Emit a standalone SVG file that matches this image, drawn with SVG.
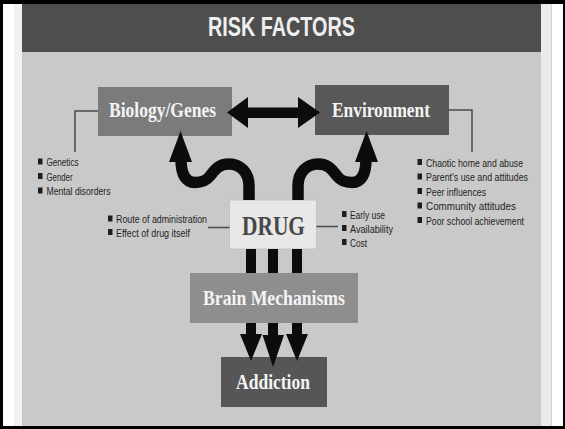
<svg xmlns="http://www.w3.org/2000/svg" width="565" height="429" viewBox="0 0 565 429">
<style>
.frame{fill:#000}
.lbl{font-family:"Liberation Serif","Times New Roman",serif;font-weight:bold;fill:#f4f4f4}
.drug{font-family:"Liberation Serif","Times New Roman",serif;font-weight:bold;fill:#474747}
.li{font-family:"Liberation Sans",Arial,sans-serif;font-size:11px;fill:#1e1e1e}
.bul{fill:#1e1e1e}
.ln{stroke:#4a4a4a;stroke-width:1.5;fill:none}
.blk{fill:#0c0c0c}
.curve{stroke:#0c0c0c;stroke-width:11.5;fill:none}
</style>
<rect width="565" height="429" fill="#ffffff"/>
<rect x="14" y="4" width="8" height="422" fill="#f1f1f1"/>
<rect x="541" y="4" width="10" height="422" fill="#ebebeb"/>
<rect x="551" y="4" width="1" height="422" fill="#d2d2d2"/>
<rect x="22" y="52" width="519" height="374" fill="#c9c9c9"/>
<rect x="22" y="4" width="519" height="48" fill="#4e4e4e"/>
<rect class="frame" x="0" y="0" width="565" height="4"/>
<rect class="frame" x="0" y="0" width="3" height="429"/>
<rect class="frame" x="0" y="426" width="565" height="3"/>
<rect class="frame" x="563" y="0" width="2" height="429"/>

<g id="title">
<text x="208" y="36" font-family="Liberation Sans, Arial, sans-serif" font-weight="bold" font-size="27" fill="#eeeeee" textLength="147" lengthAdjust="spacingAndGlyphs">RISK FACTORS</text>
</g>

<g id="biology">
<rect x="98" y="87" width="134" height="49" fill="#7b7b7b"/>
<text class="lbl" x="109" y="117" font-size="21" textLength="107" lengthAdjust="spacingAndGlyphs">Biology/Genes</text>
</g>
<g id="environment">
<rect x="315" y="85" width="134" height="50" fill="#585858"/>
<text class="lbl" x="332" y="117" font-size="21" textLength="98" lengthAdjust="spacingAndGlyphs">Environment</text>
</g>
<g id="drug">
<rect x="229.5" y="200" width="87" height="49" fill="#e8e8e8" stroke="#c4c4c4" stroke-width="1"/>
<text class="drug" x="242" y="235" font-size="28" textLength="63" lengthAdjust="spacingAndGlyphs">DRUG</text>
</g>
<g id="brain">
<rect x="190" y="273" width="168" height="50" fill="#8e8e8e"/>
<text class="lbl" x="203" y="305" font-size="22" textLength="142" lengthAdjust="spacingAndGlyphs">Brain Mechanisms</text>
</g>
<g id="addiction">
<rect x="221" y="357" width="106" height="50" fill="#565656"/>
<text class="lbl" x="236" y="389" font-size="22" textLength="74" lengthAdjust="spacingAndGlyphs">Addiction</text>
</g>

<g id="biology-factors">
<path class="ln" d="M98 111 H75 V152"/>
<rect class="bul" x="38" y="158.5" width="4.5" height="6"/>
<text class="li" x="46.5" y="166" textLength="32" lengthAdjust="spacingAndGlyphs">Genetics</text>
<rect class="bul" x="38" y="173" width="4.5" height="6"/>
<text class="li" x="46.5" y="180.5" textLength="26" lengthAdjust="spacingAndGlyphs">Gender</text>
<rect class="bul" x="38" y="187.5" width="4.5" height="6"/>
<text class="li" x="46.5" y="195" textLength="64" lengthAdjust="spacingAndGlyphs">Mental disorders</text>
</g>
<g id="environment-factors">
<path class="ln" d="M449 110 H472 V152"/>
<rect class="bul" x="417.5" y="159" width="4.5" height="6"/>
<text class="li" x="426" y="166.5" textLength="97" lengthAdjust="spacingAndGlyphs">Chaotic home and abuse</text>
<rect class="bul" x="417.5" y="173.5" width="4.5" height="6"/>
<text class="li" x="426" y="181" textLength="102" lengthAdjust="spacingAndGlyphs">Parent's use and attitudes</text>
<rect class="bul" x="417.5" y="188" width="4.5" height="6"/>
<text class="li" x="426" y="195.5" textLength="60" lengthAdjust="spacingAndGlyphs">Peer influences</text>
<rect class="bul" x="417.5" y="202.5" width="4.5" height="6"/>
<text class="li" x="426" y="210" textLength="90" lengthAdjust="spacingAndGlyphs">Community attitudes</text>
<rect class="bul" x="417.5" y="217" width="4.5" height="6"/>
<text class="li" x="426" y="224.5" textLength="98" lengthAdjust="spacingAndGlyphs">Poor school achievement</text>
</g>
<g id="drug-factors-left">
<path class="ln" d="M208 227.5 H229.5"/>
<rect class="bul" x="108" y="215.5" width="4.5" height="6"/>
<text class="li" x="116" y="223" textLength="91" lengthAdjust="spacingAndGlyphs">Route of administration</text>
<rect class="bul" x="108" y="229" width="4.5" height="6"/>
<text class="li" x="116" y="236.5" textLength="74" lengthAdjust="spacingAndGlyphs">Effect of drug itself</text>
</g>
<g id="drug-factors-right">
<path class="ln" d="M316.5 226.5 H338"/>
<rect class="bul" x="342" y="211" width="4.5" height="6"/>
<text class="li" x="350" y="218.5" textLength="35" lengthAdjust="spacingAndGlyphs">Early use</text>
<rect class="bul" x="342" y="225" width="4.5" height="6"/>
<text class="li" x="350" y="232.5" textLength="43" lengthAdjust="spacingAndGlyphs">Availability</text>
<rect class="bul" x="342" y="239" width="4.5" height="6"/>
<text class="li" x="350" y="246.5" textLength="17" lengthAdjust="spacingAndGlyphs">Cost</text>
</g>

<g id="connectors">
<polygon class="blk" points="227,112.5 248,97 248,107.5 298,107.5 298,97 320,112.5 298,128 298,118 248,118 248,128"/>
<path class="curve" d="M249 200 V186 C249 172 240 164 229 164 C218 164 214 171 210 176 C206 181 202 182.5 195 182.5 C186 182.5 181 175 181 159"/>
<polygon class="blk" points="180.5,131 169,162 192,162"/>
<path class="curve" d="M298 200 V186 C298 172 307 164 318 164 C329 164 333 171 337 176 C341 181 345 182.5 352 182.5 C361 182.5 366 175 366 159"/>
<polygon class="blk" points="366.5,131 355,162 378,162"/>
<rect class="blk" x="246" y="249" width="10" height="24"/>
<rect class="blk" x="268" y="249" width="10" height="24"/>
<rect class="blk" x="292" y="249" width="10" height="24"/>
<rect class="blk" x="246" y="323" width="10" height="12"/>
<rect class="blk" x="268" y="323" width="10" height="13"/>
<rect class="blk" x="292" y="323" width="10" height="12"/>
<polygon class="blk" points="240,334 262,334 251,361"/>
<polygon class="blk" points="262.5,335 284,335 273,367"/>
<polygon class="blk" points="286,334 308,334 297,361"/>
</g>
</svg>
